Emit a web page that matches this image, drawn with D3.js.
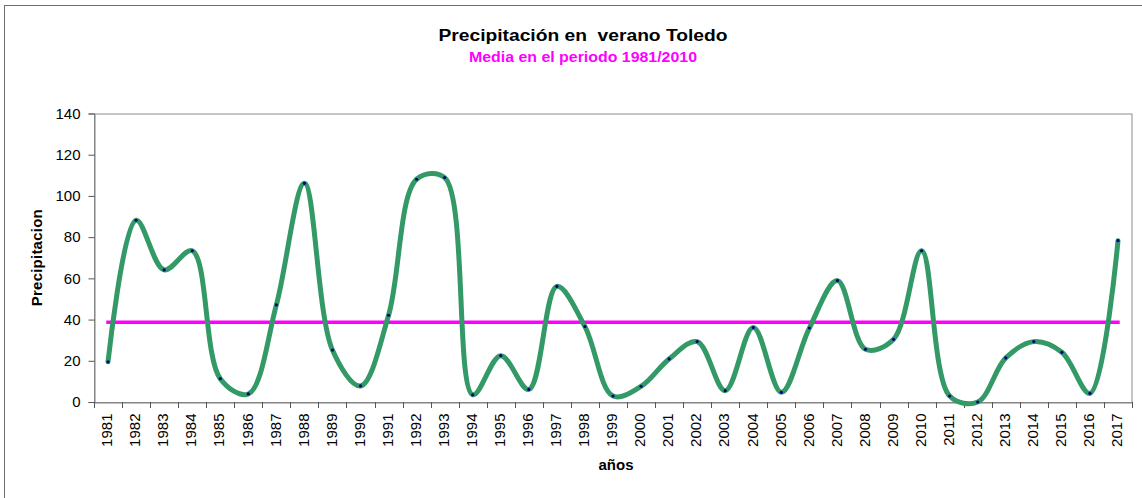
<!DOCTYPE html>
<html>
<head>
<meta charset="utf-8">
<script src="https://cdn.jsdelivr.net/npm/d3@7/dist/d3.min.js"></script>
<style>
  html, body { margin: 0; padding: 0; background: #fff; }
  svg { display: block; font-family: Arial, "Liberation Sans", sans-serif; }
</style>
</head>
<body>
<svg id="chart" width="1142" height="498"></svg>
<script>
// ---- data ----
const years = ["1981","1982","1983","1984","1985","1986","1987","1988","1989","1990",
  "1991","1992","1993","1994","1995","1996","1997","1998","1999","2000",
  "2001","2002","2003","2004","2005","2006","2007","2008","2009","2010",
  "2011","2012","2013","2014","2015","2016","2017"];
const precipitacion = [19.5, 88.2, 64.1, 73.4, 11.3, 3.9, 47.1, 106.1, 25.2, 7.8,
  42.1, 108.1, 108.9, 3.5, 22.5, 6.1, 56.1, 36.6, 2.9, 7.6,
  20.9, 29.3, 5.5, 36.1, 4.7, 35.9, 58.9, 25.6, 30.4, 73.4,
  2.9, 0, 21.4, 29.3, 24.1, 4.2, 78.3];
const mediaValue = 38.7;
const media = years.map(() => mediaValue);
const yTicks = [0, 20, 40, 60, 80, 100, 120, 140];
const titleText = "Precipitación en\u00A0 verano Toledo";
const subtitleText = "Media en el periodo 1981/2010";
const yTitle = "Precipitacion";
const xTitle = "años";

// ---- layout ----
const W = 1142, H = 498;
const plot = { left: 94, right: 1132, top: 113.5, bottom: 402 };

const svg = d3.select("#chart");
svg.append("rect").attr("width", W).attr("height", H).attr("fill", "#fff");
// outer chart frame
svg.append("rect")
  .attr("x", 4.5).attr("y", 5.5).attr("width", W + 10).attr("height", H + 10)
  .attr("fill", "none").attr("stroke", "#6e6e6e").attr("stroke-width", 1);

const x = d3.scaleBand().domain(years).range([plot.left, plot.right]).paddingInner(0).paddingOuter(0);
const y = d3.scaleLinear().domain([0, 140]).range([plot.bottom, plot.top]);

// titles
svg.append("text")
  .attr("x", 583).attr("y", 41)
  .attr("text-anchor", "middle")
  .attr("font-size", 16).attr("font-weight", "bold").attr("fill", "#000")
  .attr("textLength", 289).attr("lengthAdjust", "spacingAndGlyphs")
  .text(titleText);
svg.append("text")
  .attr("x", 583).attr("y", 61.5)
  .attr("text-anchor", "middle")
  .attr("font-size", 14).attr("font-weight", "bold").attr("fill", "#ff00ff")
  .attr("textLength", 228).attr("lengthAdjust", "spacingAndGlyphs")
  .text(subtitleText);

// plot area border
svg.append("rect")
  .attr("x", plot.left + 0.5).attr("y", plot.top + 0.5)
  .attr("width", plot.right - plot.left - 0.5).attr("height", plot.bottom - plot.top)
  .attr("fill", "none").attr("stroke", "#8c8c8c").attr("stroke-width", 1);

// y axis
const yAxis = svg.append("g")
  .attr("transform", `translate(${plot.left + 0.5},0)`)
  .call(d3.axisLeft(y).tickValues(yTicks).tickSize(6).tickPadding(8).tickFormat(d3.format("d")));
yAxis.select(".domain").attr("stroke", "#808080");
yAxis.selectAll(".tick line").attr("stroke", "#555");
yAxis.selectAll(".tick text")
  .attr("font-size", 15).attr("font-family", "Arial, 'Liberation Sans', sans-serif").attr("fill", "#000");

// x axis labels
const xAxis = svg.append("g")
  .attr("transform", `translate(0,${plot.bottom + 0.5})`)
  .call(d3.axisBottom(x).tickSize(0).tickPadding(0));
xAxis.select(".domain").attr("stroke", "#808080");
xAxis.selectAll(".tick text")
  .attr("font-size", 15).attr("font-family", "Arial, 'Liberation Sans', sans-serif").attr("fill", "#000")
  .attr("transform", "rotate(-90)")
  .attr("x", -11).attr("y", -1).attr("dy", "0.35em")
  .style("text-anchor", "end");

// x boundary ticks (between categories)
const boundaries = years.map(d => x(d)).concat([x.range()[1]]);
svg.append("g").selectAll("line").data(boundaries).join("line")
  .attr("x1", d => Math.round(d) + 0.5).attr("x2", d => Math.round(d) + 0.5)
  .attr("y1", plot.bottom).attr("y2", plot.bottom + 6)
  .attr("stroke", "#555").attr("stroke-width", 1);

// axis titles
svg.append("text")
  .attr("transform", `translate(42,${(plot.top + plot.bottom) / 2}) rotate(-90)`)
  .attr("text-anchor", "middle")
  .attr("font-size", 15).attr("font-weight", "bold").attr("fill", "#000")
  .attr("textLength", 97).attr("lengthAdjust", "spacing")
  .text(yTitle);
svg.append("text")
  .attr("x", (plot.left + plot.right) / 2 + 3).attr("y", 470)
  .attr("text-anchor", "middle")
  .attr("font-size", 15).attr("font-weight", "bold").attr("fill", "#000")
  .text(xTitle);

const cx = d => x(d) + x.bandwidth() / 2;

// mean line
svg.append("path")
  .datum(media)
  .attr("d", d3.line().x((d, i) => cx(years[i])).y(d => y(d)))
  .attr("fill", "none").attr("stroke", "#ff00ff").attr("stroke-width", 3.5)
  .attr("stroke-linecap", "square");

// smoothed precipitation line
svg.append("path")
  .datum(precipitacion)
  .attr("d", d3.line().x((d, i) => cx(years[i])).y(d => y(d)).curve(d3.curveCatmullRom.alpha(0.5)))
  .attr("fill", "none").attr("stroke", "#339966").attr("stroke-width", 5)
  .attr("stroke-linejoin", "round").attr("stroke-linecap", "round");

// markers
svg.append("g").selectAll("circle").data(precipitacion).join("circle")
  .attr("cx", (d, i) => cx(years[i])).attr("cy", d => y(d))
  .attr("r", 1.6).attr("fill", "#000080");
</script>
</body>
</html>
